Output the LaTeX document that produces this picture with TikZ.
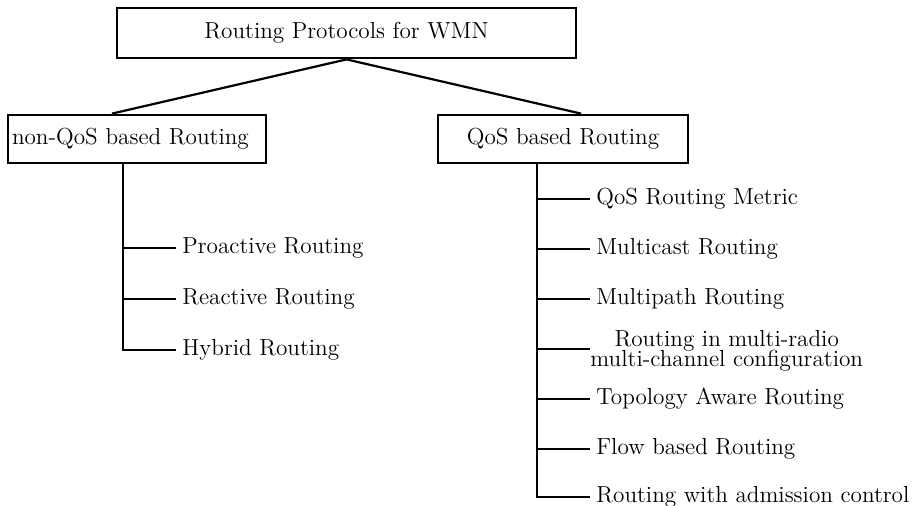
\documentclass[tikz,border=0pt]{standalone}
\usepackage{tikz}
\usetikzlibrary{positioning}
\tikzset{
	every node/.style={font=\fontsize{11.6}{14}\selectfont}, % Letra de todos los nodos
	caja/.style={draw, line width=1.4pt, minimum height=24pt, inner xsep=2pt}, % Cajas de las categorias
	hoja/.style={anchor=west, inner xsep=3pt, inner ysep=1pt}, % Protocolos de cada rama
	rama/.style={line width=1.1pt} % Lineas del arbol
}

\begin{document}
\begin{tikzpicture}[x=0.5pt, y=-0.5pt]
				\useasboundingbox (0,0) rectangle (915,505);

				\node[caja, minimum width=229.5pt, minimum height=25pt] (wmn) at (346.5,33) {Routing Protocols for WMN};

				\node[caja, text width=125pt, align=left] (nonqos) at (137,139) {non-QoS based Routing};
				\node[caja, minimum width=125pt] (qos) at (563,139) {QoS based Routing};

				\coordinate (lspine) at ([xshift=-7pt]nonqos.south);
				\coordinate (rspine) at ([xshift=-13pt]qos.south);

				\node[hoja] (pro) at (176,248) {Proactive Routing};
				\node[hoja, below=25.5pt of pro.west, anchor=west] (rea) {Reactive Routing};
				\node[hoja, below=25.5pt of rea.west, anchor=west] (hyb) {Hybrid Routing};

				\node[hoja] (met) at (590,199) {QoS Routing Metric};
				\node[hoja, below=25pt of met.west, anchor=west] (mca) {Multicast Routing};
				\node[hoja, below=25pt of mca.west, anchor=west] (mpa) {Multipath Routing};
				\node[hoja, below=26pt of mpa.west, anchor=west, inner xsep=0pt, align=center] (mrc) {Routing in multi-radio\\[-4pt]multi-channel configuration};
				\node[hoja, below=24pt of mrc.west, anchor=west] (top) {Topology Aware Routing};
				\node[hoja, below=25pt of top.west, anchor=west] (flo) {Flow based Routing};
				\node[hoja, below=24pt of flo.west, anchor=west] (adm) {Routing with admission control};

				\draw[rama] (wmn.south) -- ([xshift=-12.5pt]nonqos.north);
				\draw[rama] (wmn.south) -- ([xshift=9pt]qos.north);

				\draw[rama] (lspine) |- (hyb.west);
				\draw[rama] (lspine |- pro.west) -- (pro.west);
				\draw[rama] (lspine |- rea.west) -- (rea.west);

				\draw[rama] (rspine) |- (adm.west);
				\draw[rama] (rspine |- met.west) -- (met.west);
				\draw[rama] (rspine |- mca.west) -- (mca.west);
				\draw[rama] (rspine |- mpa.west) -- (mpa.west);
				\draw[rama] ([yshift=1pt]rspine |- mrc.west) -- ([yshift=1pt]mrc.west);
				\draw[rama] (rspine |- top.west) -- (top.west);
				\draw[rama] (rspine |- flo.west) -- (flo.west);
\end{tikzpicture}
\end{document}
